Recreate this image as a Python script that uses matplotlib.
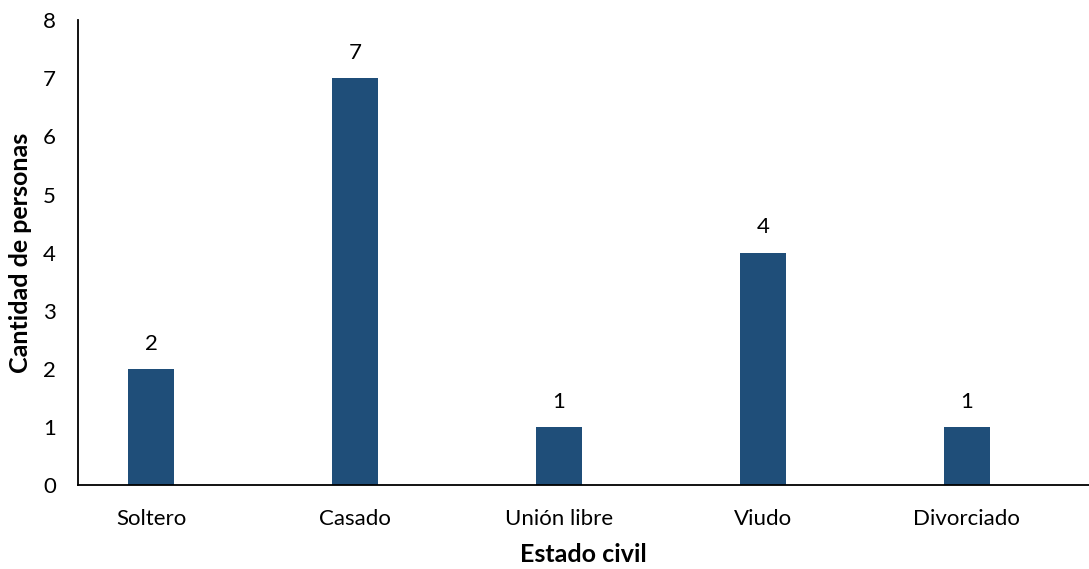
import matplotlib
matplotlib.use("Agg")
import matplotlib.pyplot as plt
import numpy as np

plt.rcParams["font.family"] = ["Lato", "DejaVu Sans"]

# Data
categorias = ["Soltero", "Casado", "Unión libre", "Viudo", "Divorciado"]
personas = [2, 7, 1, 4, 1]

bar_color = "#1F4E79"

fig = plt.figure(figsize=(10.89, 5.69), dpi=100)
ax = fig.add_axes([0.0716, 0.1476, 0.9284, 0.8168])

x = np.arange(len(categorias))
bars = ax.bar(x, personas, width=0.225, color=bar_color, zorder=2)

for xi, v in zip(x, personas):
    ax.annotate(str(v), (xi, v), xytext=(0, 11), textcoords="offset points",
                ha="center", va="bottom", fontsize=16)

ax.set_xlim(-0.358, 4.6)
ax.set_ylim(0, 8)
ax.set_yticks(range(0, 9))
ax.set_xticks(x)
ax.set_xticklabels(categorias, fontsize=16)
ax.tick_params(axis="y", labelsize=16, length=0, pad=16)
ax.tick_params(axis="x", length=0, pad=17)

for s in ["top", "right"]:
    ax.spines[s].set_visible(False)
for s in ["left", "bottom"]:
    ax.spines[s].set_linewidth(1.3)
    ax.spines[s].set_color("black")

ax.set_xlabel("Estado civil", fontsize=18, fontweight="bold", labelpad=10)
ax.set_ylabel("Cantidad de personas", fontsize=18, fontweight="bold", va="center")
ax.yaxis.set_label_coords(-0.057, 0.5)

fig.savefig("out.png", dpi=100)
